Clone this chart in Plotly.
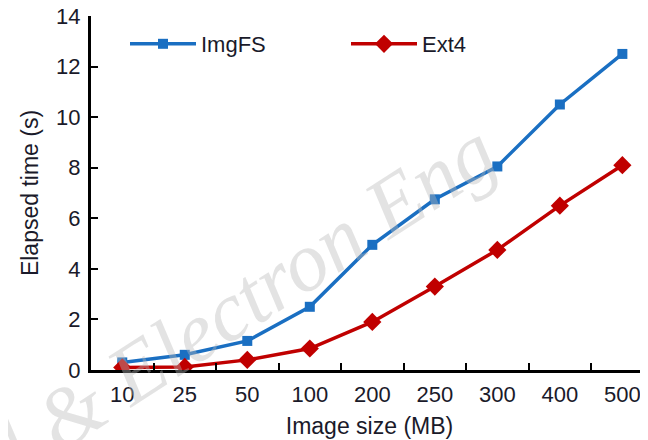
import plotly.graph_objects as go

sizes = ["10", "25", "50", "100", "200", "250", "300", "400", "500"]
imgfs = [0.3, 0.6, 1.15, 2.5, 4.95, 6.75, 8.05, 10.5, 12.5]
ext4 = [0.1, 0.12, 0.4, 0.85, 1.9, 3.3, 4.75, 6.5, 8.1]

blue = "#1a6fc2"
red = "#c00000"
font_family = "Liberation Sans, Arial, sans-serif"
text_color = "#1a1a2a"

# target plot box in page pixels (the page body adds an 8px offset)
W, H = 648, 440
OFF = 8
PL, PT, PB, PR = 91, 16, 370, 648
PW, PH = PR - PL, PB - PT

def px(xp):
    return (xp - PL) / PW

def py(yp):
    return (PB - yp) / PH

fig = go.Figure()
fig.add_trace(go.Scatter(
    x=sizes, y=imgfs, name="ImgFS", mode="lines+markers",
    line=dict(color=blue, width=3.5),
    marker=dict(symbol="square", size=10, color=blue),
))
fig.add_trace(go.Scatter(
    x=sizes, y=ext4, name="Ext4", mode="lines+markers",
    line=dict(color=red, width=3.5),
    marker=dict(symbol="diamond", size=14, color=red),
))

fig.add_annotation(
    text="<i>al & Electron Eng</i>", xref="paper", yref="paper",
    x=px(228), y=py(310), xanchor="center", yanchor="middle", showarrow=False,
    textangle=-33, font=dict(family="Liberation Serif, serif", size=84,
                             color="rgba(185,185,185,0.4)"),
)

fig.update_layout(
    width=W, height=H,
    margin=dict(l=PL - OFF, r=W - (PR - OFF), t=PT - OFF, b=H - (PB - OFF), autoexpand=False),
    paper_bgcolor="white", plot_bgcolor="white",
    font=dict(family=font_family, color=text_color),
    showlegend=True,
    legend=dict(
        orientation="h", x=px(125), y=py(44), yanchor="middle", xanchor="left",
        font=dict(size=22, family=font_family, color=text_color),
        itemwidth=66, entrywidth=140, entrywidthmode="pixels",
        bgcolor="rgba(0,0,0,0)",
    ),
    xaxis=dict(
        type="category", range=[-0.5, 8.41], automargin=False,
        showline=True, linecolor="black", linewidth=3,
        ticks="inside", tickson="boundaries", ticklen=7, tickwidth=2, tickcolor="black",
        showgrid=False, zeroline=False, ticklabelstandoff=3, ticklabeloverflow="allow",
        tickfont=dict(size=22, family=font_family, color=text_color),
        title=dict(text="Image size (MB)", font=dict(size=23, family=font_family), standoff=12),
    ),
    yaxis=dict(
        range=[0, 14], tickvals=[0, 2, 4, 6, 8, 10, 12, 14], automargin=False,
        showline=True, linecolor="black", linewidth=3,
        ticks="inside", ticklen=7, tickwidth=2, tickcolor="black",
        showgrid=False, zeroline=False, ticklabelstandoff=3, ticklabeloverflow="allow",
        tickfont=dict(size=22, family=font_family, color=text_color),
        title=dict(text="Elapsed time (s)", font=dict(size=23, family=font_family), standoff=12),
    ),
)

fig.write_html("out.html")
